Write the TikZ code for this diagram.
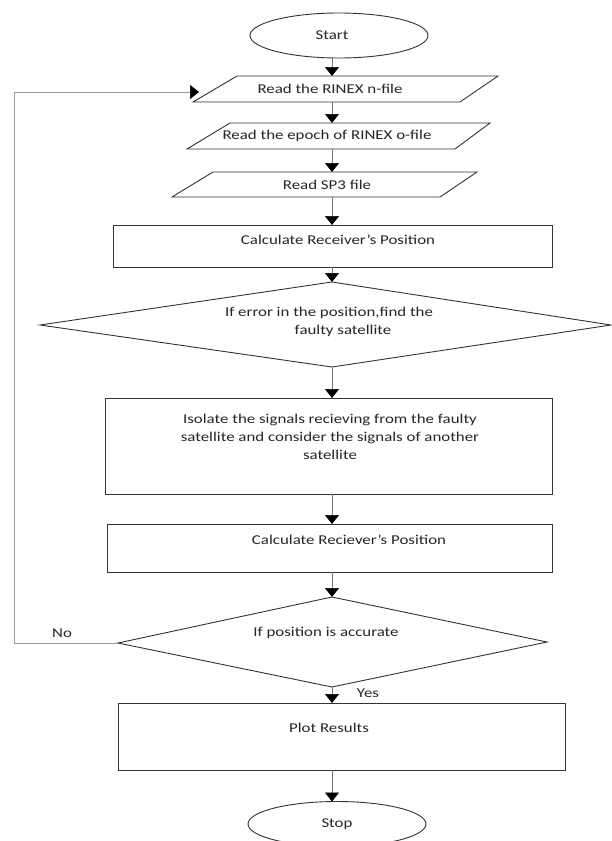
\documentclass[tikz,border=0pt]{standalone}
\usepackage{fontspec}
\setmainfont{Carlito}[FakeStretch=1.25]
\usetikzlibrary{arrows.meta,shapes.geometric}
\definecolor{boxc}{gray}{0.2}
\definecolor{linec}{gray}{0.45}
\definecolor{textc}{gray}{0.15}
\begin{document}
\begin{tikzpicture}[x=1pt,y=-1pt,
  every node/.style={inner sep=0pt,outer sep=0pt,text=textc,font=\fontsize{13.5}{18}\selectfont},
  rbox/.style={draw=boxc,line width=0.9pt,rectangle},
  hidden/.style={draw=none,rectangle},
  oval/.style={draw=boxc,line width=0.9pt,ellipse,minimum width=178pt,minimum height=45pt},
  shapeline/.style={draw=boxc,line width=0.9pt},
  arr/.style={draw=linec,line width=0.7pt,-{Triangle[length=9pt,width=14pt,color=black]}},
  loopline/.style={draw=linec!70,line width=0.8pt},
  lbl/.style={align=center}
]
\useasboundingbox (0,0) rectangle (612,841);
\fill[white] (0,0) rectangle (612,841);
\coordinate (colx) at (332,0);

% Start
\node[oval] (start) at (339,35.5) {\hspace*{-14pt}Start};

% parallelograms
\node[hidden,minimum width=305pt,minimum height=26pt] (p1) at (345.5,89) {};
\draw[shapeline] (237,76) -- (498,76) -- (460,102) -- (193,102) -- cycle;
\node (p1t) at (330,89) {Read the RINEX n-file};

\node[hidden,minimum width=303pt,minimum height=26pt] (p2) at (338.5,136) {};
\draw[shapeline] (230,123) -- (490,123) -- (455,149) -- (187,149) -- cycle;
\node (p2t) at (327,136) {Read the epoch of RINEX o-file};

\node[hidden,minimum width=305pt,minimum height=25pt] (p3) at (324.5,184.5) {};
\draw[shapeline] (213,172) -- (477,172) -- (440,197) -- (172,197) -- cycle;
\node (p3t) at (327,185) {Read SP3 file};

% rect 1
\node[rbox,minimum width=439pt,minimum height=42pt] (r1) at (332.5,246) {};
\node (r1t) at (338,240) {Calculate Receiver's Position};

% diamond 1
\node[hidden,minimum width=571pt,minimum height=85pt] (d1) at (325.5,324.5) {};
\draw[shapeline] (332,282) -- (611,325) -- (332,367) -- (40,325) -- cycle;
\node[lbl] (d1t) at (329,322) {If error in the position,find the\\\hspace*{28pt}faulty satellite};

% rect 2
\node[rbox,minimum width=447pt,minimum height=96pt] (r2) at (328.5,446) {};
\node[lbl] (r2t) at (330,437) {Isolate the signals recieving from the faulty\\satellite and consider the signals of another\\satellite};

% rect 3
\node[rbox,minimum width=445pt,minimum height=48pt] (r3) at (329.5,548) {};
\node (r3t) at (349,540) {Calculate Reciever's Position};

% diamond 2
\node[hidden,minimum width=429pt,minimum height=90pt] (d2) at (332.5,642) {};
\draw[shapeline] (332,597) -- (547,642) -- (332,687) -- (118,643) -- cycle;
\node (d2t) at (326,633) {If position is accurate};

% rect 4
\node[rbox,minimum width=447pt,minimum height=67pt] (r4) at (341.5,736.5) {};
\node (r4t) at (329,728) {Plot Results};

% Stop
\node[oval] (stop) at (337,824) {\raisebox{1pt}{Stop}};

% connectors
\draw[arr] (start.south -| colx) -- (p1.north -| colx);
\draw[arr] (p1.south -| colx) -- (p2.north -| colx);
\draw[arr] (p2.south -| colx) -- (p3.north -| colx);
\draw[arr] (p3.south -| colx) -- (r1.north -| colx);
\draw[arr] (r1.south -| colx) -- (d1.north -| colx);
\draw[arr] (d1.south -| colx) -- (r2.north -| colx);
\draw[arr] (r2.south -| colx) -- (r3.north -| colx);
\draw[arr] (r3.south -| colx) -- (d2.north -| colx);
\draw[arr] (d2.south -| colx) -- (r4.north -| colx);
\draw[arr] (r4.south -| colx) -- (stop.north -| colx);

% No loop
\coordinate (dleft) at (118,643);
\coordinate (loopend) at (199,92);
\draw[loopline] (dleft) -- (14,643) -- (14,92) -- (loopend);
\draw[arr,draw=linec!70] (184,92) -- (loopend);
\node (no) at (62,633) {No};
\node (yes) at (368,693) {Yes};
\end{tikzpicture}
\end{document}
